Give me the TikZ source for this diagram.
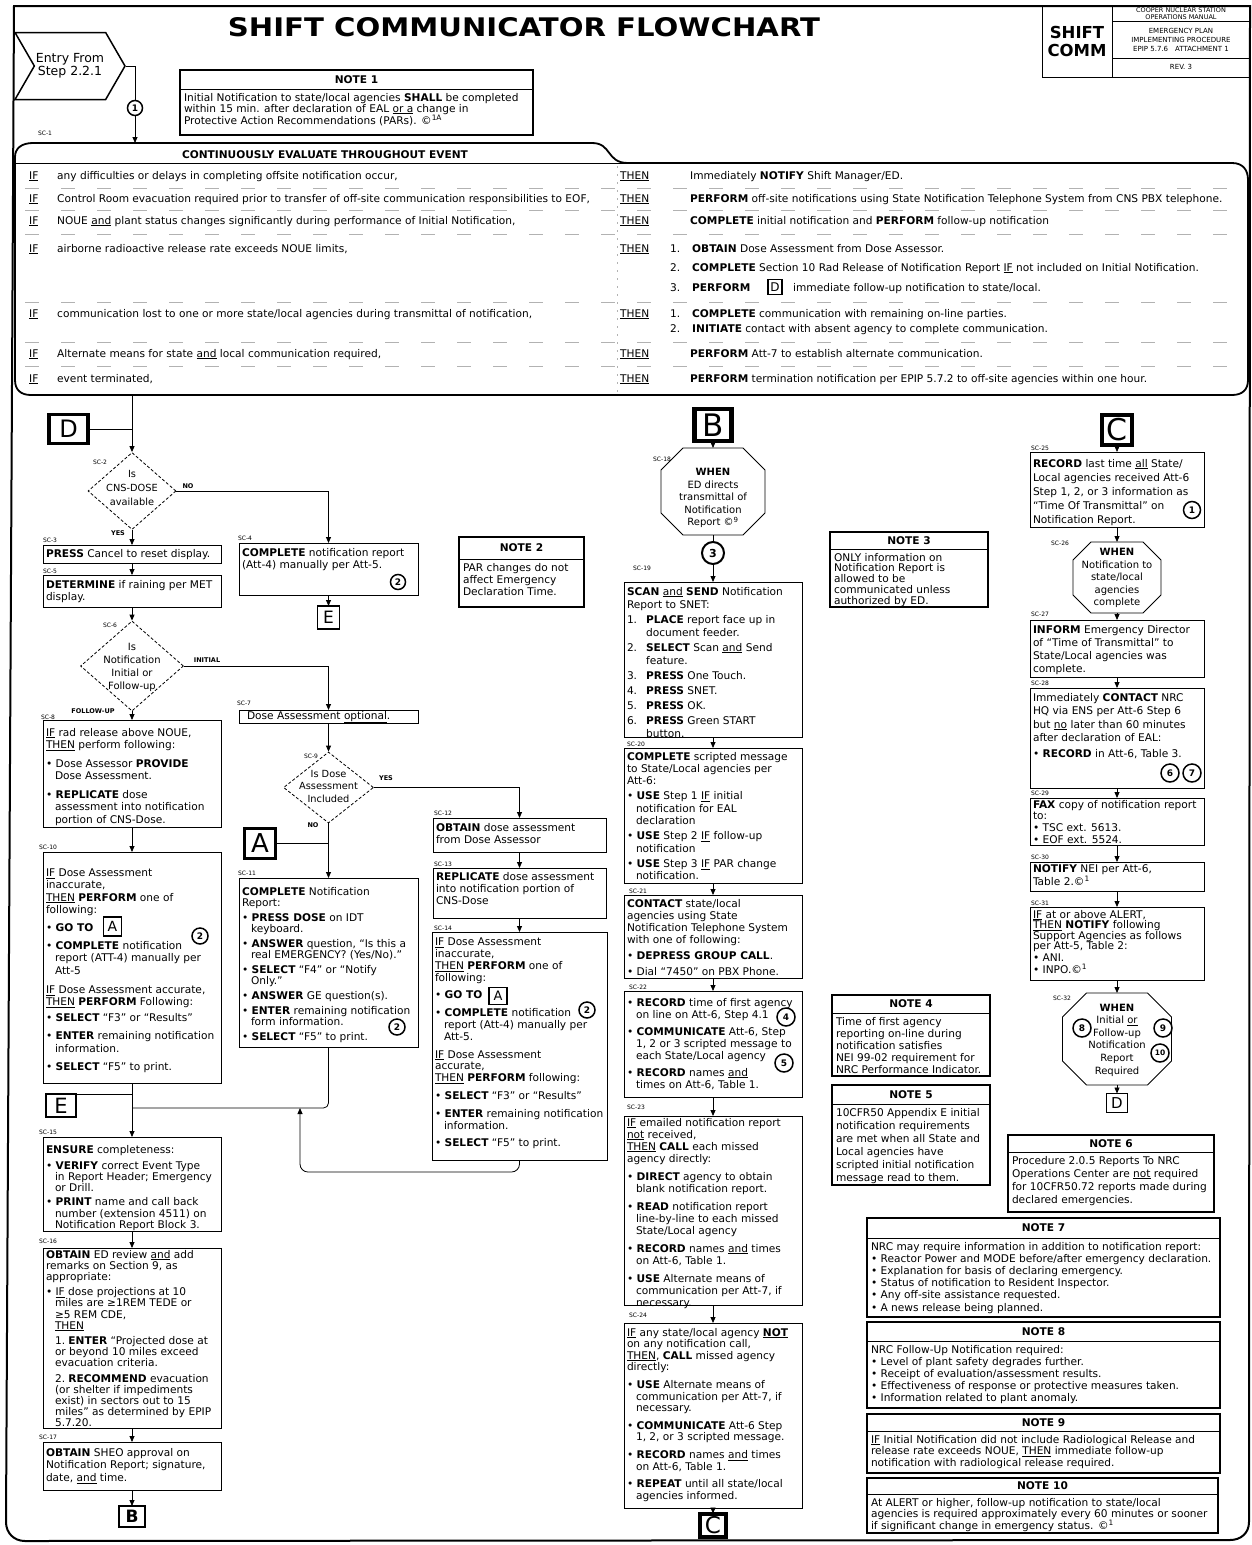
\documentclass[tikz,border=0pt]{standalone}
\usepackage{graphicx}
\usepackage{fontspec}
\setmainfont{DejaVu Sans}
\usetikzlibrary{arrows.meta,shapes.geometric,shapes.symbols,calc}
\newcommand\bo[1]{\textbf{#1}}
\newcommand\un[1]{\underline{#1}}
\newcommand\hg{\hspace*{0.85em}}
\newcommand\nm[1]{\makebox[1.8em][l]{#1}}
\newcommand\hn{\hspace*{1.8em}}
\tikzset{
  fr/.style={draw, line width=0.8pt, inner sep=0pt, outer sep=0pt},
  nf/.style={draw, line width=2.2pt, inner sep=0pt, outer sep=0pt},
  tx/.style={inner sep=0pt, outer sep=0pt, align=left, anchor=north west},
  lbl/.style={font=\fontsize{6}{6}\selectfont, inner sep=0pt},
  yn/.style={font=\bfseries\fontsize{6.5}{6.5}\selectfont, inner sep=0pt},
  ln/.style={line width=0.8pt},
  arr/.style={line width=0.8pt, -{Triangle[length=6pt,width=5pt]}},
  cn/.style={circle, draw, line width=1.5pt, inner sep=0pt, minimum size=#1, font=\bfseries\fontsize{9}{9}\selectfont, fill=white},
  cn/.default=15pt,
  lt/.style={draw, inner sep=0pt, outer sep=0pt, fill=white},
  dia/.style={diamond, draw, densely dashed, line width=0.8pt, inner sep=0pt},
  rt/.style={inner sep=0pt, font=\fontsize{10.6}{12}\selectfont},
  hd/.style={inner sep=0pt, align=center},
}
% box: name x1 y1 x2 y2 leading topoffset text
\newcommand\bx[8]{%
  \pgfmathsetmacro\bw{#4-#2}\pgfmathsetmacro\bh{#5-#3}%
  \node[fr, minimum width=\bw pt, minimum height=\bh pt, anchor=north west] (#1) at (#2,#3) {};%
  \node[tx, font=\fontsize{10.6}{#6}\selectfont] (#1t) at ([xshift=3pt,yshift=-#7pt]#1.north west) {#8};}
% note: name x1 y1 x2 y2 sepy title leading text
\newcommand\nt[9]{%
  \pgfmathsetmacro\bw{#4-#2}\pgfmathsetmacro\bh{#5-#3}%
  \node[nf, minimum width=\bw pt, minimum height=\bh pt, anchor=north west] (#1) at (#2,#3) {};%
  \node[font=\bfseries\fontsize{10.6}{12}\selectfont, inner sep=0pt, anchor=base] (#1h) at ({(#2+#4)/2},{(#3+#6)/2+3.5}) {#7};%
  \draw[line width=0.9pt] (#2,#6) -- (#4,#6);%
  \node[tx, font=\fontsize{10.6}{#8}\selectfont] (#1t) at (#2+4,#6+4) {#9};}
% octagon: name cx cy w h chamfer textcy text
\newcommand\oct[8]{%
  \node[inner sep=0pt, outer sep=0pt, minimum width=#4pt, minimum height=#5pt] (#1) at (#2,#3) {};%
  \draw[line width=0.9pt] ([xshift=#6pt]#1.north west) -- ([xshift=-#6pt]#1.north east) -- ([yshift=-#6pt]#1.north east) -- ([yshift=#6pt]#1.south east) -- ([xshift=-#6pt]#1.south east) -- ([xshift=#6pt]#1.south west) -- ([yshift=#6pt]#1.south west) -- ([yshift=-#6pt]#1.north west) -- cycle;%
  \node[align=center, inner sep=0pt, font=\fontsize{10}{12.6}\selectfont] (#1t) at (#2,#7) {#8};}
% top-box row: n y iftext action actionx
\newcommand\trow[5]{%
  \node[rt, anchor=base west] (r#1i) at (29,#2) {\un{IF}};%
  \node[rt, anchor=base west] (r#1a) at (57,#2) {#3};%
  \node[rt, anchor=base west] (r#1t) at (620,#2) {\un{THEN}};%
  \node[rt, anchor=base west] (r#1b) at (#5,#2) {#4};}

\begin{document}
\begin{tikzpicture}[x=1pt,y=-1pt]
\useasboundingbox (0,0) rectangle (1251,1545);
% outer frame
\draw[line width=2pt] (14,6) -- (1250,6) -- (1249,1522) .. controls (1249,1533) and (1241,1540) .. (1230,1540) -- (25,1541) .. controls (14,1541) and (6,1533) .. (6,1522) -- cycle;
% title
\node[inner sep=0pt] (title) at (524,27.5) {\resizebox{592pt}{19pt}{\bfseries SHIFT COMMUNICATOR FLOWCHART}};
% header block
\node[fr, line width=1pt, minimum width=70pt, minimum height=71pt, anchor=north west] (scbox) at (1042,6) {};
\node[hd, font=\bfseries\fontsize{16.5}{18}\selectfont] (sctxt) at (1077,41) {SHIFT\\COMM};
\node[fr, line width=1pt, minimum width=138pt, minimum height=71pt, anchor=north west] (mbox) at (1112,6) {};
\draw[line width=0.8pt] (1112,21) -- (1250,21);
\draw[line width=0.8pt] (1112,58) -- (1250,58);
\node[hd, font=\fontsize{6.5}{6.5}\selectfont] (h1) at (1181,13.5) {COOPER NUCLEAR STATION\\OPERATIONS MANUAL};
\node[hd, font=\fontsize{7}{9}\selectfont] (h2) at (1181,40) {EMERGENCY PLAN\\IMPLEMENTING PROCEDURE\\EPIP 5.7.6\quad ATTACHMENT 1};
\node[hd, font=\fontsize{7}{9}\selectfont] (h3) at (1181,67) {REV. 3};
% entry
\node[signal, signal to=east, signal from=west, draw, line width=1.5pt, minimum width=110pt, minimum height=67pt, inner sep=0pt, signal pointer angle=120, align=center, font=\fontsize{12.5}{13}\selectfont] (entry) at (70,66) {Entry From\\Step 2.2.1};
\node[cn=15pt] (c1a) at (135,108) {1};
\coordinate (evtop) at (135,143);
\node[lbl] (l1) at (45,133) {SC-1};
% NOTE 1
\nt{n1}{180}{70}{533}{135}{89}{NOTE 1}{11}{Initial Notification to state/local agencies \bo{SHALL} be completed\\within 15 min. after declaration of EAL \un{or a} change in\\Protective Action Recommendations (PARs). ©\textsuperscript{1A}}
% continuously evaluate box
\draw[line width=1.8pt] (15,380) -- (15,157) .. controls (15,148) and (22,143) .. (33,143) -- (592,143) .. controls (612,143) and (606,163) .. (628,163) -- (1232,163) .. controls (1243,163) and (1248,170) .. (1248,180) -- (1248,380) .. controls (1248,390) and (1242,395) .. (1232,395) -- (31,395) .. controls (21,395) and (15,390) .. (15,380) -- cycle;
\draw[line width=0.8pt] (15,163) -- (628,163);
\node[font=\bfseries\fontsize{10.6}{12}\selectfont, inner sep=0pt] (evh) at (325,155) {CONTINUOUSLY EVALUATE THROUGHOUT EVENT};
\foreach \yy in {188,210,234,302,342,366} \draw[gray!60, line width=0.5pt, dash pattern=on 14pt off 22pt] (25,\yy) -- (1240,\yy);
\draw[gray!60, line width=0.5pt, dash pattern=on 2pt off 6pt] (617,166) -- (617,392);
\trow{1}{179}{any difficulties or delays in completing offsite notification occur,}{Immediately \bo{NOTIFY} Shift Manager/ED.}{690}
\trow{2}{202}{Control Room evacuation required prior to transfer of off-site communication responsibilities to EOF,}{\bo{PERFORM} off-site notifications using State Notification Telephone System from CNS PBX telephone.}{690}
\trow{3}{224}{NOUE \un{and} plant status changes significantly during performance of Initial Notification,}{\bo{COMPLETE} initial notification and \bo{PERFORM} follow-up notification}{690}
\trow{4}{252}{airborne radioactive release rate exceeds NOUE limits,}{\makebox[22pt][l]{1.}\bo{OBTAIN} Dose Assessment from Dose Assessor.}{670}
\node[rt, anchor=base west] (r4c) at (670,271) {\makebox[22pt][l]{2.}\bo{COMPLETE} Section 10 Rad Release of Notification Report \un{IF} not included on Initial Notification.};
\node[rt, anchor=base west] (r4d) at (670,291) {\makebox[22pt][l]{3.}\bo{PERFORM}};
\node[lt, line width=1.5pt, minimum width=14pt, minimum height=15pt, font=\fontsize{12}{12}\selectfont] (Drow) at (775,287) {D};
\node[rt, anchor=base west] (r4e) at (793,291) {immediate follow-up notification to state/local.};
\trow{5}{317}{communication lost to one or more state/local agencies during transmittal of notification,}{\makebox[22pt][l]{1.}\bo{COMPLETE} communication with remaining on-line parties.}{670}
\node[rt, anchor=base west] (r5c) at (670,332) {\makebox[22pt][l]{2.}\bo{INITIATE} contact with absent agency to complete communication.};
\trow{6}{357}{Alternate means for state \un{and} local communication required,}{\bo{PERFORM} Att-7 to establish alternate communication.}{690}
\trow{7}{382}{event terminated,}{\bo{PERFORM} termination notification per EPIP 5.7.2 to off-site agencies within one hour.}{690}
\coordinate (evbot) at (132,395);

% ---------------- column 1
\node[lt, line width=3.5pt, minimum width=39pt, minimum height=29pt, font=\fontsize{24}{24}\selectfont] (Dtop) at (68.5,429) {D};
\node[dia, minimum width=88pt, minimum height=77pt] (d2) at (132,491) {};
\node[align=center, inner sep=0pt, font=\fontsize{9.8}{14}\selectfont] (d2t) at (132,488) {Is\\CNS-DOSE\\available};
\node[lbl] (l2) at (100,462) {SC-2};
\node[yn] (yes1) at (118,533) {YES};
\node[yn] (no1) at (188,486) {NO};
\bx{sc3}{43}{545}{221}{563}{12}{4}{\bo{PRESS} Cancel to reset display.}
\node[lbl] (l3) at (50,540) {SC-3};
\bx{sc5}{43}{575}{221}{607}{12.5}{5}{\bo{DETERMINE} if raining per MET\\display.}
\node[lbl] (l5) at (50,571) {SC-5};
\node[dia, minimum width=103pt, minimum height=90pt] (d6) at (132,666) {};
\node[align=center, inner sep=0pt, font=\fontsize{10}{13}\selectfont] (d6t) at (132,667) {Is\\Notification\\Initial or\\Follow-up};
\node[lbl] (l6) at (110,625) {SC-6};
\node[yn] (ini) at (207,660) {INITIAL};
\node[yn] (fol) at (93,711) {FOLLOW-UP};
\bx{sc8}{43}{720}{221}{827}{12.5}{8}{\un{IF} rad release above NOUE,\\\un{THEN} perform following:\\[6pt]• Dose Assessor \bo{PROVIDE}\\\hg Dose Assessment.\\[6pt]• \bo{REPLICATE} dose\\\hg assessment into notification\\\hg portion of CNS-Dose.}
\node[lbl] (l8) at (48,717) {SC-8};
\bx{sc10}{43}{852}{221}{1083}{12.2}{17}{\un{IF} Dose Assessment\\inaccurate,\\\un{THEN} \bo{PERFORM} one of\\following:\\[6pt]• \bo{GO TO}\\[6pt]• \bo{COMPLETE} notification\\\hg report (ATT-4) manually per\\\hg Att-5\\[7pt]\un{IF} Dose Assessment accurate,\\\un{THEN} \bo{PERFORM} Following:\\[4pt]• \bo{SELECT} “F3” or “Results”\\[6pt]• \bo{ENTER} remaining notification\\\hg information.\\[6pt]• \bo{SELECT} “F5” to print.}
\node[lt, line width=1.5pt, minimum width=18pt, minimum height=19pt, font=\fontsize{14}{14}\selectfont] (A2) at (112.5,926.5) {A};
\node[cn=16pt] (c2b) at (200,936) {2};
\node[lbl] (l10) at (48,847) {SC-10};
\coordinate (jn) at (132,1108);
\node[lt, line width=2pt, minimum width=30pt, minimum height=23pt, font=\fontsize{21}{21}\selectfont] (Ebig) at (61,1105.5) {E};
\bx{sc15}{43}{1137}{221}{1231}{11.2}{8}{\bo{ENSURE} completeness:\\[5pt]• \bo{VERIFY} correct Event Type\\\hg in Report Header; Emergency\\\hg or Drill.\\[3pt]• \bo{PRINT} name and call back\\\hg number (extension 4511) on\\\hg Notification Report Block 3.}
\node[lbl] (l15) at (48,1132) {SC-15};
\bx{sc16}{43}{1248}{221}{1428}{11.2}{2}{\bo{OBTAIN} ED review \un{and} add\\remarks on Section 9, as\\appropriate:\\[4pt]• \un{IF} dose projections at 10\\\hg miles are ≥1REM TEDE or\\\hg ≥5 REM CDE,\\\hg \un{THEN}\\[4pt]\hg 1.\ \bo{ENTER} “Projected dose at\\\hg or beyond 10 miles exceed\\\hg evacuation criteria.\\[4pt]\hg 2.\ \bo{RECOMMEND} evacuation\\\hg (or shelter if impediments\\\hg exist) in sectors out to 15\\\hg miles” as determined by EPIP\\\hg 5.7.20.}
\node[lbl] (l16) at (48,1241) {SC-16};
\bx{sc17}{43}{1442}{221}{1490}{12.8}{6}{\bo{OBTAIN} SHEO approval on\\Notification Report; signature,\\date, \un{and} time.}
\node[lbl] (l17) at (48,1437) {SC-17};
\node[lt, line width=2.5pt, minimum width=26pt, minimum height=21pt, font=\bfseries\fontsize{17}{17}\selectfont] (Bbot) at (132,1516.5) {B};

% ---------------- column 2
\bx{sc4}{239}{543}{418}{595}{12.5}{5}{\bo{COMPLETE} notification report\\(Att-4) manually per Att-5.}
\node[cn=15pt] (c2a) at (398,582) {2};
\node[lbl] (l4) at (245,538) {SC-4};
\node[lt, line width=1.5pt, minimum width=22pt, minimum height=23pt, font=\fontsize{17}{17}\selectfont] (Esm) at (328.5,617.5) {E};
\bx{sc7}{239}{710}{418}{723}{12}{1}{\hspace*{5pt}Dose Assessment \un{optional}.}
\node[lbl] (l7) at (244,703) {SC-7};
\node[dia, minimum width=90pt, minimum height=71pt] (d9) at (328.5,787.5) {};
\node[align=center, inner sep=0pt, font=\fontsize{9.8}{12.5}\selectfont] (d9t) at (328.5,786) {Is Dose\\Assessment\\Included};
\node[lbl] (l9) at (311,756) {SC-9};
\node[yn] (yes2) at (386,778) {YES};
\node[yn] (no2) at (313,825) {NO};
\node[lt, line width=2.5pt, minimum width=31pt, minimum height=30pt, font=\fontsize{26}{26}\selectfont] (A1) at (260,843.5) {A};
\bx{sc11}{239}{878}{418}{1047}{11}{9}{\bo{COMPLETE} Notification\\Report:\\[4pt]• \bo{PRESS DOSE} on IDT\\\hg keyboard.\\[4pt]• \bo{ANSWER} question, “Is this a\\\hg real EMERGENCY? (Yes/No).”\\[4pt]• \bo{SELECT} “F4” or “Notify\\\hg Only.”\\[4pt]• \bo{ANSWER} GE question(s).\\[4pt]• \bo{ENTER} remaining notification\\\hg form information.\\[4pt]• \bo{SELECT} “F5” to print.}
\node[cn=16pt] (c2c) at (397,1027) {2};
\node[lbl] (l11) at (247,873) {SC-11};
\nt{n2}{459}{537}{584}{607}{559}{NOTE 2}{12}{PAR changes do not\\affect Emergency\\Declaration Time.}

% ---------------- column 3
\bx{sc12}{433}{818}{606}{852}{12}{5}{\bo{OBTAIN} dose assessment\\from Dose Assessor}
\node[lbl] (l12) at (443,813) {SC-12};
\bx{sc13}{433}{868}{606}{918}{12.3}{4}{\bo{REPLICATE} dose assessment\\into notification portion of\\CNS-Dose}
\node[lbl] (l13) at (443,864) {SC-13};
\bx{sc14}{432}{932}{607}{1160}{11.8}{6}{\un{IF} Dose Assessment\\inaccurate,\\\un{THEN} \bo{PERFORM} one of\\following:\\[6pt]• \bo{GO TO}\\[6pt]• \bo{COMPLETE} notification\\\hg report (Att-4) manually per\\\hg Att-5.\\[6pt]\un{IF} Dose Assessment\\accurate,\\\un{THEN} \bo{PERFORM} following:\\[6pt]• \bo{SELECT} “F3” or “Results”\\[6pt]• \bo{ENTER} remaining notification\\\hg information.\\[6pt]• \bo{SELECT} “F5” to print.}
\node[lt, line width=1.5pt, minimum width=18pt, minimum height=17pt, font=\fontsize{13}{13}\selectfont] (A3) at (498,996) {A};
\node[cn=16pt] (c2d) at (587,1010) {2};
\node[lbl] (l14) at (443,928) {SC-14};
\coordinate (lpA) at (300,1172);
\coordinate (lpB) at (300,1108);

% ---------------- column 4
\node[lt, line width=4.5pt, minimum width=37pt, minimum height=32pt, font=\fontsize{31}{31}\selectfont] (Btop) at (713,425) {B};
\oct{oct18}{713}{491.5}{104}{87}{22}{498}{\bo{WHEN}\\ED directs\\transmittal of\\Notification\\Report ©\textsuperscript{9}}
\node[lbl] (l18) at (662,459) {SC-18};
\node[cn=22pt, line width=2pt, font=\bfseries\fontsize{11}{11}\selectfont] (c3) at (713,553) {3};
\bx{sc19}{624}{582}{802}{737}{13}{5}{\bo{SCAN} \un{and} \bo{SEND} Notification\\Report to SNET:\\[2pt]\nm{1.}\bo{PLACE} report face up in\\\hn document feeder.\\[2pt]\nm{2.}\bo{SELECT} Scan \un{and} Send\\\hn feature.\\[2pt]\nm{3.}\bo{PRESS} One Touch.\\[2pt]\nm{4.}\bo{PRESS} SNET.\\[2pt]\nm{5.}\bo{PRESS} OK.\\[2pt]\nm{6.}\bo{PRESS} Green START\\\hn button.}
\node[lbl] (l19) at (642,568) {SC-19};
\bx{sc20}{624}{748}{802}{883}{12.3}{4}{\bo{COMPLETE} scripted message\\to State/Local agencies per\\Att-6:\\[3pt]• \bo{USE} Step 1 \un{IF} initial\\\hg notification for EAL\\\hg declaration\\[3pt]• \bo{USE} Step 2 \un{IF} follow-up\\\hg notification\\[3pt]• \bo{USE} Step 3 \un{IF} PAR change\\\hg notification.}
\node[lbl] (l20) at (636,744) {SC-20};
\bx{sc21}{624}{895}{802}{978}{12}{4}{\bo{CONTACT} state/local\\agencies using State\\Notification Telephone System\\with one of following:\\[4pt]• \bo{DEPRESS GROUP CALL}.\\[4pt]• Dial “7450” on PBX Phone.}
\node[lbl] (l21) at (638,891) {SC-21};
\bx{sc22}{624}{991}{802}{1097}{12}{7}{• \bo{RECORD} time of first agency\\\hg on line on Att-6, Step 4.1\\[5pt]• \bo{COMMUNICATE} Att-6, Step\\\hg 1, 2 or 3 scripted message to\\\hg each State/Local agency\\[5pt]• \bo{RECORD} names \un{and}\\\hg times on Att-6, Table 1.}
\node[cn=18pt] (c4) at (786,1017) {4};
\node[cn=18pt] (c5) at (784,1063) {5};
\node[lbl] (l22) at (638,987) {SC-22};
\bx{sc23}{624}{1116}{802}{1305}{12}{2}{\un{IF} emailed notification report\\\un{not} received,\\\un{THEN} \bo{CALL} each missed\\agency directly:\\[6pt]• \bo{DIRECT} agency to obtain\\\hg blank notification report.\\[6pt]• \bo{READ} notification report\\\hg line-by-line to each missed\\\hg State/Local agency\\[6pt]• \bo{RECORD} names \un{and} times\\\hg on Att-6, Table 1.\\[6pt]• \bo{USE} Alternate means of\\\hg communication per Att-7, if\\\hg necessary.}
\node[lbl] (l23) at (636,1107) {SC-23};
\bx{sc24}{624}{1323}{802}{1508}{11.6}{5}{\un{IF} any state/local agency \un{\bo{NOT}}\\on any notification call,\\\un{THEN}, \bo{CALL} missed agency\\directly:\\[6pt]• \bo{USE} Alternate means of\\\hg communication per Att-7, if\\\hg necessary.\\[6pt]• \bo{COMMUNICATE} Att-6 Step\\\hg 1, 2, or 3 scripted message.\\[6pt]• \bo{RECORD} names \un{and} times\\\hg on Att-6, Table 1.\\[6pt]• \bo{REPEAT} until all state/local\\\hg agencies informed.}
\node[lbl] (l24) at (638,1315) {SC-24};
\node[lt, line width=4pt, minimum width=26pt, minimum height=23pt, font=\fontsize{23}{23}\selectfont] (Cbot) at (713,1525) {C};

% notes middle
\nt{n3}{830}{532}{988}{607}{549}{NOTE 3}{10.8}{ONLY information on\\Notification Report is\\allowed to be\\communicated unless\\authorized by ED.}
\nt{n4}{832}{995}{990}{1076}{1013}{NOTE 4}{12}{Time of first agency\\reporting on-line during\\notification satisfies\\NEI 99-02 requirement for\\NRC Performance Indicator.}
\nt{n5}{832}{1085}{990}{1185}{1104}{NOTE 5}{13}{10CFR50 Appendix E initial\\notification requirements\\are met when all State and\\Local agencies have\\scripted initial notification\\message read to them.}

% ---------------- column 5
\node[lt, line width=4pt, minimum width=30pt, minimum height=30pt, font=\fontsize{30}{30}\selectfont] (Ctop) at (1117,430) {C};
\bx{sc25}{1030}{452}{1204}{527}{14}{7}{\bo{RECORD} last time \un{all} State/\\Local agencies received Att-6\\Step 1, 2, or 3 information as\\“Time Of Transmittal” on\\Notification Report.}
\node[cn=17pt] (c1b) at (1192,510) {1};
\node[lbl] (l25) at (1040,448) {SC-25};
\oct{oct26}{1117}{577.5}{88}{71}{18}{578}{\bo{WHEN}\\Notification to\\state/local\\agencies\\complete}
\node[lbl] (l26) at (1060,543) {SC-26};
\bx{sc27}{1030}{620}{1204}{677}{13}{5}{\bo{INFORM} Emergency Director\\of “Time of Transmittal” to\\State/Local agencies was\\complete.}
\node[lbl] (l27) at (1040,614) {SC-27};
\bx{sc28}{1030}{688}{1204}{788}{13.5}{5}{Immediately \bo{CONTACT} NRC\\HQ via ENS per Att-6 Step 6\\but \un{no} later than 60 minutes\\after declaration of EAL:\\[2pt]• \bo{RECORD} in Att-6, Table 3.}
\node[cn=18pt] (c6) at (1170,773) {6};
\node[cn=18pt] (c7) at (1192,773) {7};
\node[lbl] (l28) at (1040,683) {SC-28};
\bx{sc29}{1030}{798}{1204}{845}{11.8}{2}{\bo{FAX} copy of notification report\\to:\\• TSC ext. 5613.\\• EOF ext. 5524.}
\node[lbl] (l29) at (1040,793) {SC-29};
\bx{sc30}{1030}{862}{1204}{891}{11}{3}{\bo{NOTIFY} NEI per Att-6,\\Table 2.©\textsuperscript{1}}
\node[lbl] (l30) at (1040,857) {SC-30};
\bx{sc31}{1030}{907}{1204}{980}{10.6}{3}{\un{IF} at or above ALERT,\\\un{THEN} \bo{NOTIFY} following\\Support Agencies as follows\\per Att-5, Table 2:\\[1pt]• ANI.\\[1pt]• INPO.©\textsuperscript{1}}
\node[lbl] (l31) at (1040,903) {SC-31};
\oct{oct32}{1117}{1039}{109}{92}{24}{1040}{\bo{WHEN}\\Initial \un{or}\\Follow-up\\Notification\\Report\\Required}
\node[cn=18pt] (c8) at (1082,1028) {8};
\node[cn=18pt] (c9) at (1163,1028) {9};
\node[cn=18pt, font=\bfseries\fontsize{7.5}{7.5}\selectfont] (c10) at (1160,1053) {10};
\node[lbl] (l32) at (1062,998) {SC-32};
\node[lt, line width=1.5pt, minimum width=21pt, minimum height=19pt, font=\fontsize{15}{15}\selectfont] (Dsm) at (1117,1103) {D};

% notes right
\nt{n6}{1008}{1135}{1214}{1212}{1152}{NOTE 6}{13}{Procedure 2.0.5 Reports To NRC\\Operations Center are \un{not} required\\for 10CFR50.72 reports made during\\declared emergencies.}
\nt{n7}{867}{1218}{1220}{1317}{1238}{NOTE 7}{12.2}{NRC may require information in addition to notification report:\\• Reactor Power and MODE before/after emergency declaration.\\• Explanation for basis of declaring emergency.\\• Status of notification to Resident Inspector.\\• Any off-site assistance requested.\\• A news release being planned.}
\nt{n8}{867}{1322}{1220}{1408}{1341}{NOTE 8}{12}{NRC Follow-Up Notification required:\\• Level of plant safety degrades further.\\• Receipt of evaluation/assessment results.\\• Effectiveness of response or protective measures taken.\\• Information related to plant anomaly.}
\nt{n9}{867}{1414}{1220}{1473}{1431}{NOTE 9}{11.5}{\un{IF} Initial Notification did not include Radiological Release and\\release rate exceeds NOUE, \un{THEN} immediate follow-up\\notification with radiological release required.}
\nt{n10}{867}{1478}{1218}{1533}{1494}{NOTE 10}{11}{At ALERT or higher, follow-up notification to state/local\\agencies is required approximately every 60 minutes or sooner\\if significant change in emergency status. ©\textsuperscript{1}}

% ---------------- connectors
\draw[ln] (entry.east) -| (c1a.north);
\draw[arr] (c1a.south) -- (evtop);
\draw[arr] (evbot) -- (d2.north);
\draw[ln] (Dtop.east) -- (Dtop.east -| d2.north);
\draw[arr] (d2.south) -- (sc3.north);
\draw[arr] (d2.east) -| (sc4.north);
\draw[arr] (sc3.south) -- (sc5.north);
\draw[arr] (sc5.south) -- (d6.north);
\draw[arr] (d6.east) -| (sc7.north);
\draw[arr] (d6.south) -- (sc8.north);
\draw[arr] (sc4.south) -- (Esm.north);
\draw[arr] (sc7.south) -- (d9.north);
\draw[arr] (d9.east) -| (sc12.north);
\draw[arr] (d9.south) -- (sc11.north);
\draw[ln] (A1.east) -- (A1.east -| d9.south);
\draw[arr] (sc8.south) -- (sc10.north);
\draw[arr] (sc10.south) -- (sc15.north);
\draw[ln, rounded corners=5pt] (sc11.south) |- (jn);
\draw[ln] (Ebig.north east) -- (Ebig.north east -| sc15.north);
\draw[arr] (sc12.south) -- (sc13.north);
\draw[arr] (sc13.south) -- (sc14.north);
\draw[arr, rounded corners=8pt] (sc14.south) |- (lpA) -- (lpB);
\draw[arr] (sc15.south) -- (sc16.north);
\draw[arr] (sc16.south) -- (sc17.north);
\draw[arr] (sc17.south) -- (Bbot.north);
\draw[arr] (Btop.south) -- (oct18.north);
\draw[ln] (oct18.south) -- (c3.north);
\draw[arr] (c3.south) -- (sc19.north);
\draw[arr] (sc19.south) -- (sc20.north);
\draw[arr] (sc20.south) -- (sc21.north);
\draw[arr] (sc21.south) -- (sc22.north);
\draw[arr] (sc22.south) -- (sc23.north);
\draw[arr] (sc23.south) -- (sc24.north);
\draw[arr] (sc24.south) -- (Cbot.north);
\draw[arr] (Ctop.south) -- (sc25.north);
\draw[arr] (sc25.south) -- (oct26.north);
\draw[arr] (oct26.south) -- (sc27.north);
\draw[arr] (sc27.south) -- (sc28.north);
\draw[arr] (sc28.south) -- (sc29.north);
\draw[arr] (sc29.south) -- (sc30.north);
\draw[arr] (sc30.south) -- (sc31.north);
\draw[arr] (sc31.south) -- (oct32.north);
\draw[arr] (oct32.south) -- (Dsm.north);
\end{tikzpicture}
\end{document}
